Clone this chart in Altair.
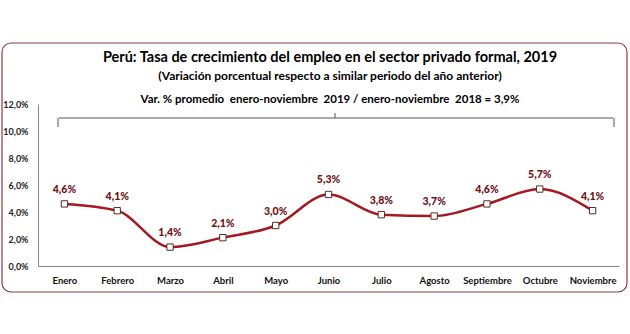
import altair as alt
import pandas as pd

months = ["Enero", "Febrero", "Marzo", "Abril", "Mayo", "Junio", "Julio",
          "Agosto", "Septiembre", "Octubre", "Noviembre"]
values = [4.6, 4.1, 1.4, 2.1, 3.0, 5.3, 3.8, 3.7, 4.6, 5.7, 4.1]
y_ticks = [0, 2, 4, 6, 8, 10, 12]

NB = "\u00a0"
title = "Perú: Tasa de crecimiento del empleo en el sector privado formal, 2019"
subtitle = "(Variación porcentual respecto a similar periodo del año anterior)"
note = f"Var. % promedio {NB}enero-noviembre {NB}2019 / enero-noviembre {NB}2018 = 3,9%"

df = pd.DataFrame({"mes": months, "valor": values})
df["etiqueta"] = [f"{v:.1f}".replace(".", ",") + "%" for v in values]

FONT = "Lato"
RED = "#A3191F"
LABEL_RED = "#6E1114"

x = alt.X("mes:N", sort=months, title=None,
          scale=alt.Scale(paddingInner=0, paddingOuter=0),
          axis=alt.Axis(labelAngle=0, ticks=False, domainColor="#888888",
                        labelFont=FONT, labelFontWeight="bold", labelFontSize=9.5,
                        labelColor="#111111", labelPadding=9))
y = alt.Y("valor:Q", title=None,
          scale=alt.Scale(domain=[0, 12], nice=False),
          axis=alt.Axis(values=y_ticks, grid=False, ticks=False, domainColor="#888888",
                        labelFont=FONT, labelFontWeight="bold", labelFontSize=9,
                        labelColor="#222222", labelPadding=10,
                        labelExpr="replace(format(datum.value, '.1f'), '.', ',') + '%'"))

base = alt.Chart(df)

line = base.mark_line(color=RED, strokeWidth=2.5, interpolate="monotone").encode(x=x, y=y)
pts = base.mark_point(shape="square", filled=True, fill="white", stroke="#5a2a2a",
                      strokeWidth=1, size=40, opacity=1).encode(x=x, y=y)
labels = base.mark_text(dy=-14, font=FONT, fontWeight=900, fontSize=10.5,
                        color=LABEL_RED).encode(x=x, y=y, text="etiqueta:N")

frame = alt.Chart(pd.DataFrame({"a": [0]})).mark_rect(
    fill=None, stroke="#8a3b45", strokeWidth=1.2, cornerRadius=9, clip=False
).encode(x=alt.value(-36), x2=alt.value(589), y=alt.value(-61), y2=alt.value(188))

texts = pd.DataFrame({
    "t": [title, subtitle, note],
    "size": [14.5, 12, 11.5],
    "ypos": [-46, -28, -4],
})
title_marks = alt.Chart(texts).mark_text(font=FONT, fontWeight="bold", color="#000000",
                                         align="center", baseline="middle").encode(
    text="t:N", x=alt.value(292), y=alt.Y("ypos:Q", scale=None),
    size=alt.Size("size:Q", scale=None, legend=None))

one = pd.DataFrame({"a": [0]})
brace_style = dict(color="#555555", strokeWidth=1)
brace_h = alt.Chart(one).mark_rule(**brace_style).encode(
    x=alt.value(21), x2=alt.value(575), y=alt.value(14))
brace_l = alt.Chart(one).mark_rule(**brace_style).encode(
    x=alt.value(20), y=alt.value(14), y2=alt.value(23))
brace_r = alt.Chart(one).mark_rule(**brace_style).encode(
    x=alt.value(576), y=alt.value(14), y2=alt.value(23))
brace_m = alt.Chart(one).mark_rule(**brace_style).encode(
    x=alt.value(297), y=alt.value(9), y2=alt.value(14))

chart = alt.layer(frame, title_marks, brace_h, brace_l, brace_r, brace_m,
                  line, pts, labels).properties(
    width=581, height=162,
    autosize=alt.AutoSizeParams(type="none"),
    padding={"left": 38, "top": 104, "right": 11, "bottom": 68},
    background="white",
).configure_view(stroke=None)

chart.save("out.html", embed_options={"renderer": "svg", "actions": False})
